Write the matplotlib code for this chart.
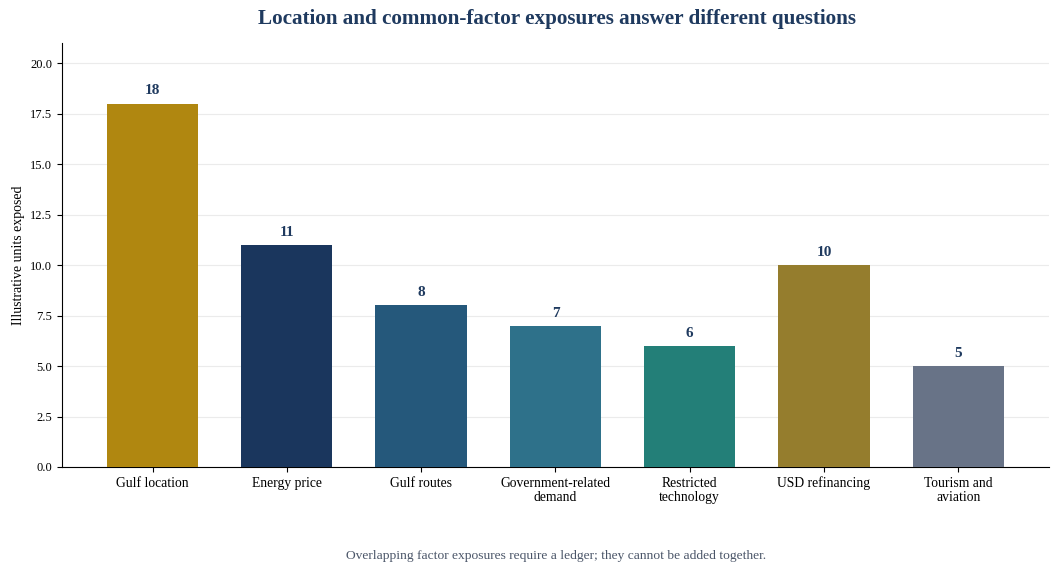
import matplotlib
matplotlib.use("Agg")
import matplotlib.pyplot as plt

# data
categories = ["Gulf location", "Energy price", "Gulf routes", "Government-related\ndemand",
              "Restricted\ntechnology", "USD refinancing", "Tourism and\naviation"]
values = [18, 11, 8, 7, 6, 10, 5]
colors = ["#B08710", "#1A365D", "#25587B", "#2E718A", "#237F78", "#957D2D", "#687387"]

plt.rcParams["font.family"] = ["Liberation Serif", "DejaVu Serif"]

fig = plt.figure(figsize=(10.6, 5.73), dpi=100)
ax = fig.add_axes([0.0585, 0.185, 0.931, 0.740])

x = range(len(categories))
bars = ax.bar(x, values, width=0.68, color=colors, zorder=3)

for b, v in zip(bars, values):
    ax.text(b.get_x() + b.get_width() / 2, v + 0.3, str(v), ha="center", va="bottom",
            fontsize=11, fontweight="bold", color="#1F3A5F")

ax.set_ylim(0, 21)
ax.set_yticks([0, 2.5, 5, 7.5, 10, 12.5, 15, 17.5, 20])
ax.set_yticklabels([f"{t:.1f}" for t in ax.get_yticks()], fontsize=9)
ax.set_xticks(list(x))
ax.set_xticklabels(categories, fontsize=9.8, linespacing=1.1)
ax.set_ylabel("Illustrative units exposed", fontsize=10)

ax.grid(axis="y", color="#EBEBEB", linewidth=0.8, zorder=0)
ax.spines["top"].set_visible(False)
ax.spines["right"].set_visible(False)

fig.text(0.525, 0.966, "Location and common-factor exposures answer different questions",
         ha="center", va="center", fontsize=15.2, fontweight="bold", color="#1F3A5F")
fig.text(0.525, 0.030, "Overlapping factor exposures require a ledger; they cannot be added together.",
         ha="center", va="center", fontsize=9.7, color="#4A5568")

fig.savefig("out.png", dpi=100)
